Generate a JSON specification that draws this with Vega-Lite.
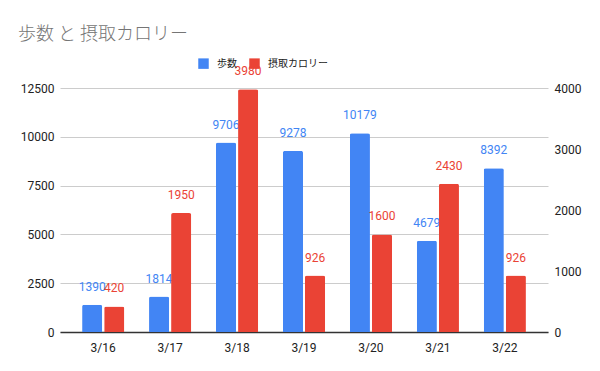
{
  "$schema": "https://vega.github.io/schema/vega-lite/v6.json",
  "width": 488,
  "height": 244,
  "autosize": {"type": "none"},
  "padding": {"left": 60, "top": 88, "right": 52, "bottom": 39},
  "background": "white",
  "title": {
    "text": "歩数 と 摂取カロリー",
    "anchor": "start",
    "frame": "group",
    "dx": -42,
    "offset": 14,
    "font": "Noto Sans CJK JP",
    "fontSize": 18,
    "fontWeight": 300,
    "color": "#757575"
  },
  "data": {
    "values": [
      {"date": "3/16", "series": "歩数", "value": 1390},
      {"date": "3/17", "series": "歩数", "value": 1814},
      {"date": "3/18", "series": "歩数", "value": 9706},
      {"date": "3/19", "series": "歩数", "value": 9278},
      {"date": "3/20", "series": "歩数", "value": 10179},
      {"date": "3/21", "series": "歩数", "value": 4679},
      {"date": "3/22", "series": "歩数", "value": 8392},
      {"date": "3/16", "series": "摂取カロリー", "value": 420},
      {"date": "3/17", "series": "摂取カロリー", "value": 1950},
      {"date": "3/18", "series": "摂取カロリー", "value": 3980},
      {"date": "3/19", "series": "摂取カロリー", "value": 926},
      {"date": "3/20", "series": "摂取カロリー", "value": 1600},
      {"date": "3/21", "series": "摂取カロリー", "value": 2430},
      {"date": "3/22", "series": "摂取カロリー", "value": 926}
    ]
  },
  "encoding": {
    "x": {
      "field": "date",
      "type": "ordinal",
      "sort": null,
      "title": null,
      "scale": {"paddingInner": 0.37, "paddingOuter": 0.33},
      "axis": {
        "labelAngle": 0,
        "ticks": false,
        "domainColor": "#333333",
        "domainWidth": 1.5,
        "labelFont": "Roboto",
        "labelFontSize": 12,
        "labelColor": "#222222",
        "labelPadding": 10,
        "grid": false
      }
    },
    "xOffset": {
      "field": "series",
      "type": "nominal",
      "scale": {"domain": ["歩数", "摂取カロリー"], "paddingInner": 0.09}
    }
  },
  "layer": [
    {
      "transform": [{"filter": "datum.series === '歩数'"}],
      "encoding": {
        "y": {
          "field": "value",
          "type": "quantitative",
          "title": null,
          "scale": {"domain": [0, 12500], "nice": false},
          "axis": {
            "orient": "left",
            "values": [0, 2500, 5000, 7500, 10000, 12500],
            "format": "d",
            "ticks": false,
            "domain": false,
            "gridColor": "#cccccc",
            "labelFont": "Roboto",
            "labelFontSize": 12,
            "labelColor": "#222222",
            "labelPadding": 6
          }
        }
      },
      "layer": [
        {
          "mark": {"type": "bar", "cornerRadiusTopLeft": 2, "cornerRadiusTopRight": 2},
          "encoding": {
            "color": {
              "field": "series",
              "type": "nominal",
              "scale": {"domain": ["歩数", "摂取カロリー"], "range": ["#4285F4", "#EA4335"]},
              "legend": {
                "orient": "none",
                "legendX": 138,
                "legendY": -30,
                "direction": "horizontal",
                "title": null,
                "symbolType": "square",
                "symbolSize": 110,
                "symbolStrokeWidth": 0,
                "labelFont": "Noto Sans CJK JP",
                "labelFontSize": 10,
                "labelColor": "#222222",
                "columnPadding": 12,
                "labelOffset": 8
              }
            }
          }
        },
        {
          "mark": {"type": "text", "dy": -14, "baseline": "alphabetic", "font": "Roboto", "fontSize": 12, "color": "#4285F4"},
          "encoding": {"text": {"field": "value", "type": "quantitative", "format": "d"}}
        }
      ]
    },
    {
      "transform": [{"filter": "datum.series === '摂取カロリー'"}],
      "encoding": {
        "y": {
          "field": "value",
          "type": "quantitative",
          "title": null,
          "scale": {"domain": [0, 4000], "nice": false},
          "axis": {
            "orient": "right",
            "values": [0, 1000, 2000, 3000, 4000],
            "format": "d",
            "grid": false,
            "ticks": false,
            "domain": false,
            "labelFont": "Roboto",
            "labelFontSize": 12,
            "labelColor": "#222222",
            "labelPadding": 6
          }
        }
      },
      "layer": [
        {
          "mark": {"type": "bar", "cornerRadiusTopLeft": 2, "cornerRadiusTopRight": 2},
          "encoding": {
            "color": {"field": "series", "type": "nominal"}
          }
        },
        {
          "mark": {"type": "text", "dy": -14, "baseline": "alphabetic", "font": "Roboto", "fontSize": 12, "color": "#EA4335"},
          "encoding": {"text": {"field": "value", "type": "quantitative", "format": "d"}}
        }
      ]
    }
  ],
  "resolve": {"scale": {"y": "independent"}},
  "config": {"view": {"stroke": null}}
}
